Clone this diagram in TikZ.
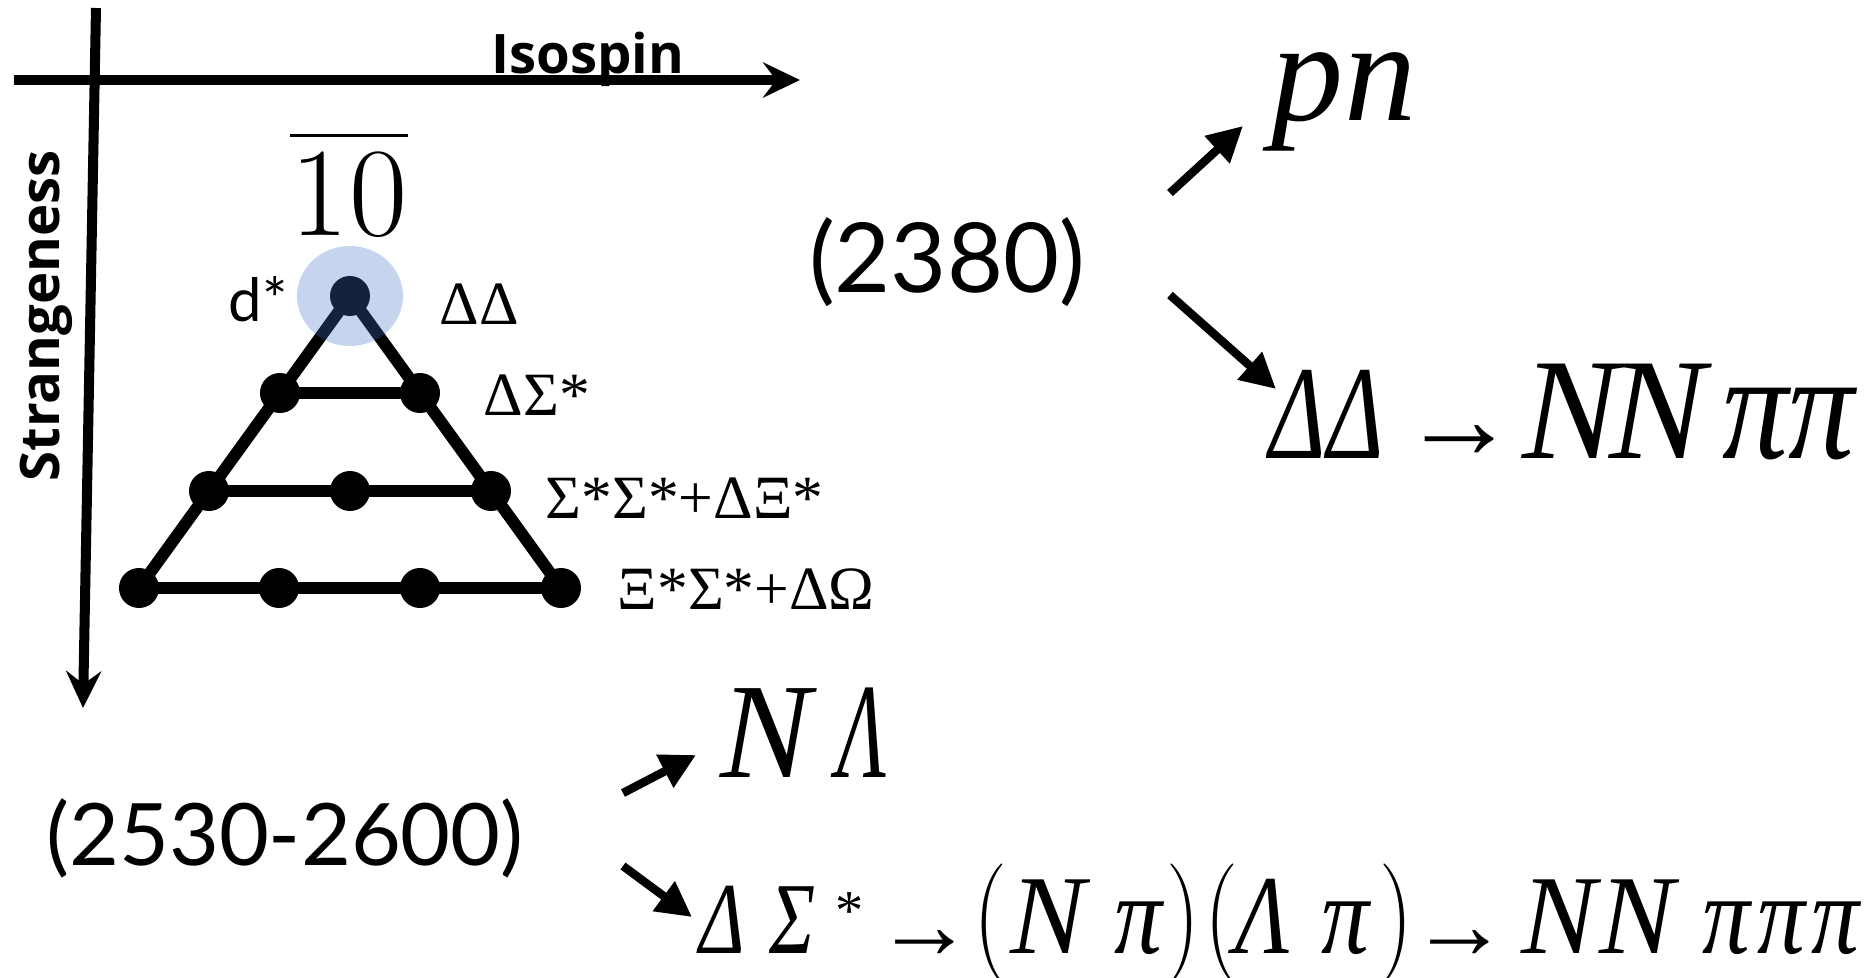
\documentclass[tikz,border=0pt]{standalone}
\usepackage{fontspec}
\usepackage{graphicx}
\usetikzlibrary{arrows.meta}
\newfontfamily\isofont{Open Sans}
\newfontfamily\numfont{Lato}
\newfontfamily\partfont{Liberation Serif}
\definecolor{blob}{RGB}{68,114,196}
\newcommand\fsz[1]{\fontsize{#1}{#1}\selectfont}
\newcommand\nar[2][0.72]{\scalebox{#1}[1]{#2}}

\begin{document}
\begin{tikzpicture}[x=0.01cm,y=-0.01cm,
  axis/.style={line width=2.85pt,-{Stealth[length=10.5pt,width=10pt,inset=3.7pt]}},
  decay/.style={line width=2.4pt,-{Triangle[length=10pt,width=10pt]}},
  weight/.style={circle,fill=black,inner sep=0pt,minimum size=0.4cm},
  rung/.style={line width=3.4pt,line join=round},
  txt/.style={inner sep=0pt},
  glyph/.style={inner sep=0pt,anchor=base,font=\partfont\itshape}]
 \useasboundingbox (0,0) rectangle (1871,978);
 \coordinate (xfrom) at (14,80); \coordinate (xto) at (800,80);
 \coordinate (sfrom) at (96,8); \coordinate (sto) at (83,708);
 \draw[axis] (xfrom)--(xto);
 \draw[axis] (sfrom)--(sto);
 \node[txt,anchor=base,font=\isofont\bfseries\fsz{15.5}] (iso) at (588,73) {Isospin};
 \node[txt,anchor=base,rotate=90,font=\isofont\bfseries\fsz{15.5}] (strange) at (59,316) {Strangeness};
 \foreach \n/\p in {top/{(350,296)},a1/{(280,393)},a2/{(420,393)},b1/{(209,491)},b2/{(350,491)},b3/{(491,491)},c1/{(139,588)},c2/{(279,588)},c3/{(420,588)},c4/{(561,588)}}
  {\node[weight] (\n) at \p {};}
 \draw[rung] (top.center)--(c1.center)--(c4.center)--cycle;
 \draw[rung] (a1.center)--(a2.center) (b1.center)--(b3.center);
 \fill[blob,opacity=.3] (top.center) ellipse [x radius=53,y radius=50];
 \node[txt,anchor=base,font=\fsz{36}] (ten) at (349,235) {10};
 \draw[line width=0.9pt] ([shift={(0,-15)}]ten.north west)--([shift={(0,-15)}]ten.north east);
 \node[txt,anchor=base,font=\numfont\fsz{17}] (dstar) at (258,321) {d*};
 \node[txt,anchor=base west,font=\partfont\fsz{17.5}] (ldd) at (439,324) {ΔΔ};
 \node[txt,anchor=base west,font=\partfont\fsz{17.5}] (lds) at (483,415) {ΔΣ*};
 \node[txt,anchor=base west,font=\partfont\fsz{17.5}] (lss) at (545,518) {Σ*Σ*+ΔΞ*};
 \node[txt,anchor=base west,font=\partfont\fsz{17.5}] (lxs) at (617,609) {Ξ*Σ*+ΔΩ};
 \node[txt,anchor=base,font=\numfont\fsz{27.5}] (m2380) at (947,292) {(2380)};
 \node[txt,anchor=base,font=\numfont\fsz{24.5}] (m2560) at (285,865) {(2530-2600)};
 \node[glyph,font=\partfont\itshape\fsz{41}] (pn) at (1344,120) {pn};
 \foreach \x/\y/\g [count=\i] in {1298/458/{\fsz{38}\nar{Δ}},1356/458/{\fsz{38}\nar{Δ}},1460/458/{\fsz{33}\upshape →},
   1571/458/{\fsz{41}N},1658/458/{\fsz{41}N},1756/458/{\fsz{43.6}\nar[0.86]{π}},1822/458/{\fsz{43.6}\nar[0.86]{π}}}
  {\node[glyph] (dd\i) at (\x,\y) {\g};}
 \foreach \x/\y/\g [count=\i] in {766/777/N,862/777/{\nar[0.6]{Λ}}}
  {\node[glyph,font=\partfont\itshape\fsz{38.6}] (nl\i) at (\x,\y) {\g};}
 \foreach \x/\y/\g [count=\i] in {722/953/{\fsz{29}\nar[0.76]{Δ}},793/953/{\fsz{29}\nar[0.76]{Σ}},850/929/{\fsz{16}\upshape *},925/958/{\fsz{28}\upshape →},
   990/953/{\fsz{34}\rmfamily\upshape\nar[0.8]{(}},1048/953/N,1138/953/{\nar[0.85]{π}},1183/953/{\fsz{34}\rmfamily\upshape\nar[0.8]{)}},
   1221/953/{\fsz{34}\rmfamily\upshape\nar[0.8]{(}},1263/953/{\nar[0.8]{Λ}},1345/953/{\nar[0.85]{π}},1396/953/{\fsz{34}\rmfamily\upshape\nar[0.8]{)}},
   1460/958/{\fsz{28}\upshape →},1559/953/N,1637/953/N,1726/953/{\nar[0.85]{π}},1781/953/{\nar[0.85]{π}},1835/953/{\nar[0.85]{π}}}
  {\node[glyph,font=\partfont\itshape\fsz{32}] (ds\i) at (\x,\y) {\g};}
 \coordinate (pnfrom) at (1170,193); \coordinate (pnto) at (1243,126);
 \coordinate (ddfrom) at (1170,295); \coordinate (ddto) at (1276,389);
 \coordinate (nlfrom) at (623,793); \coordinate (nlto) at (696,755);
 \coordinate (dsfrom) at (623,866); \coordinate (dsto) at (692,917);
 \draw[decay] (pnfrom)--(pnto);
 \draw[decay] (ddfrom)--(ddto);
 \draw[decay] (nlfrom)--(nlto);
 \draw[decay] (dsfrom)--(dsto);
\end{tikzpicture}
\end{document}
